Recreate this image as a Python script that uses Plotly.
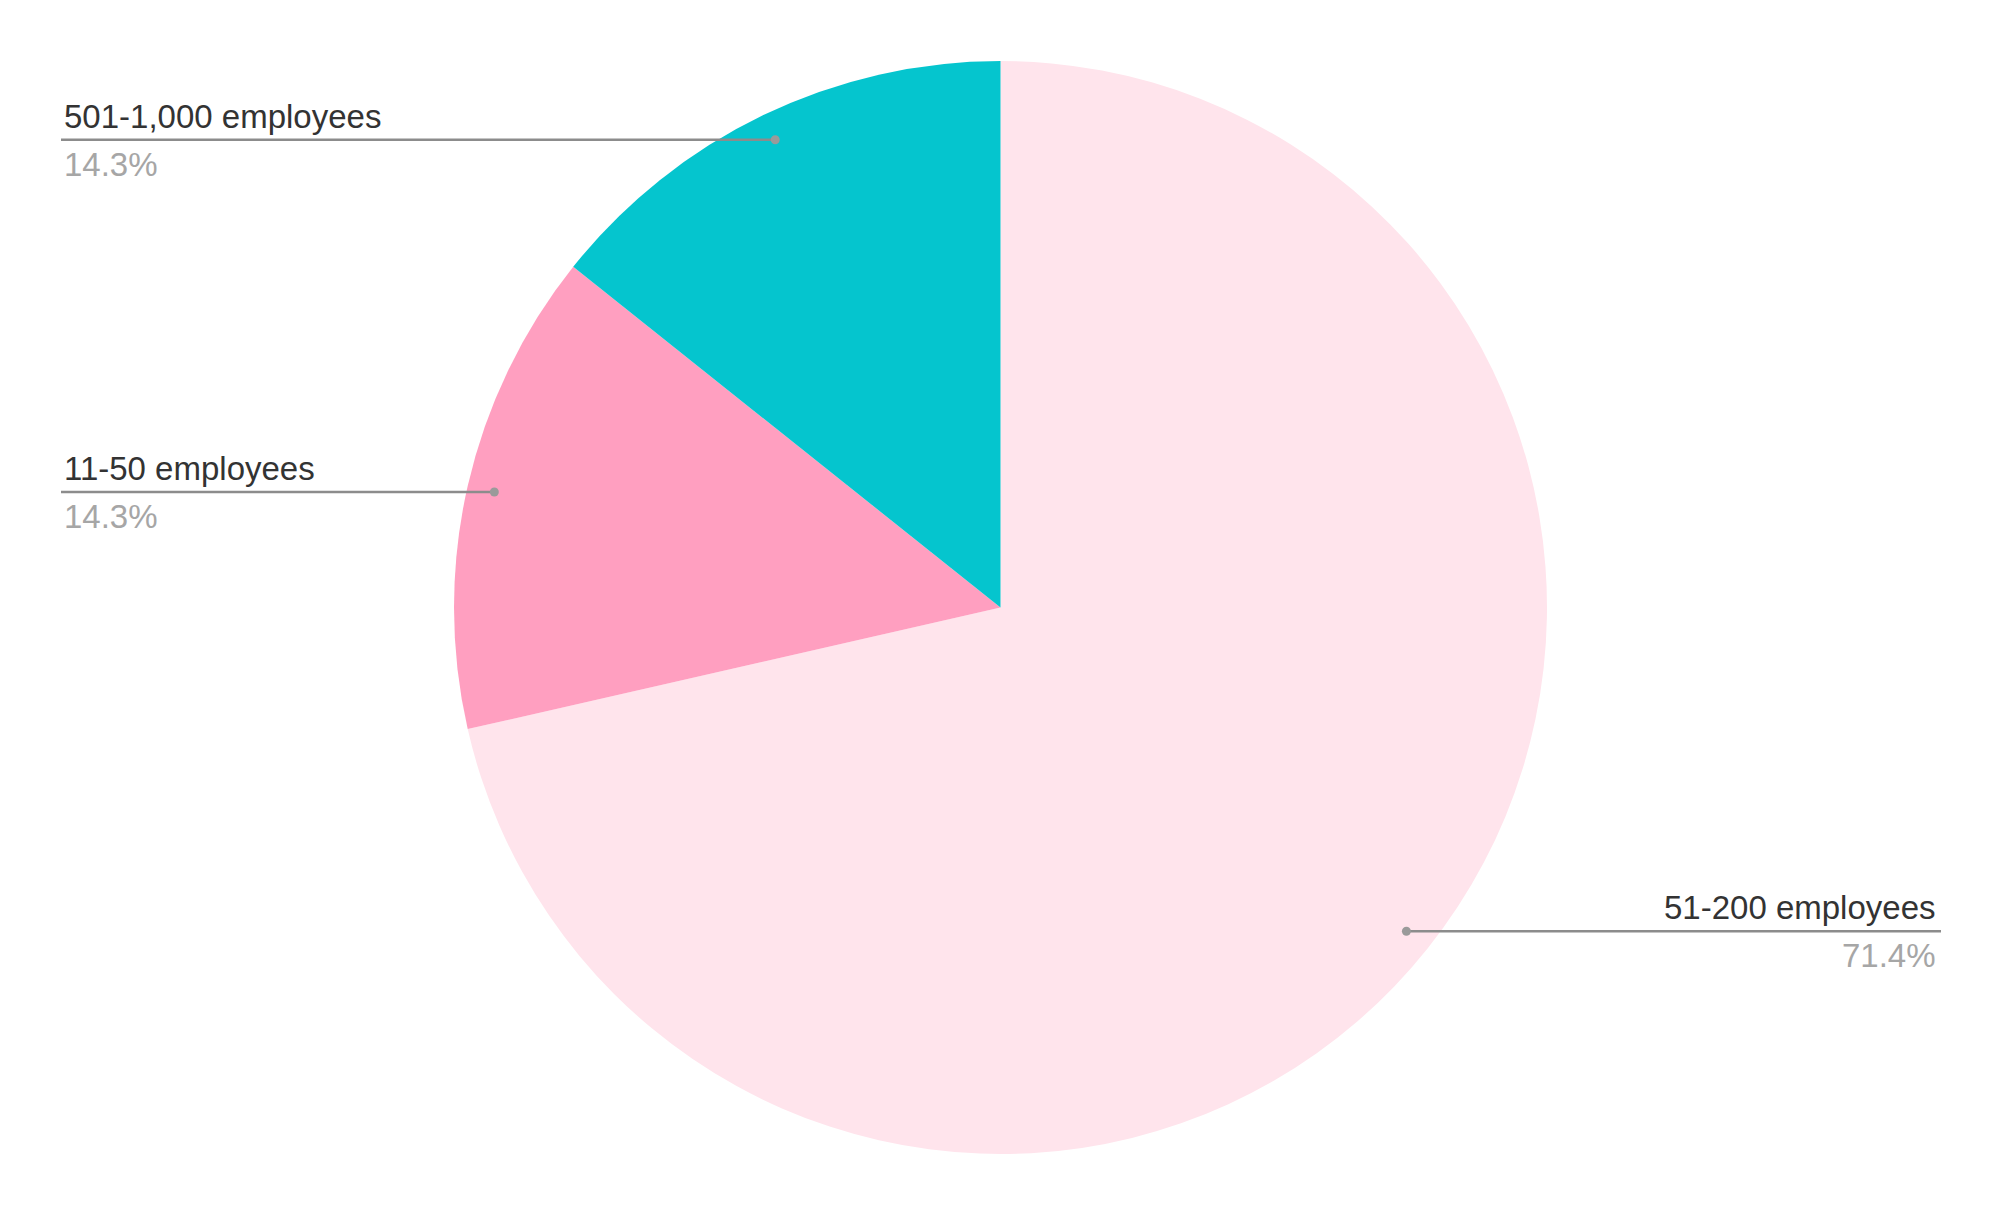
import math
import plotly.graph_objects as go

# slice data, in drawing order (clockwise from 12 o'clock)
categories = ["51-200 employees", "11-50 employees", "501-1,000 employees"]
counts = [5, 1, 1]
colors = ["#FFE4EC", "#FF9FC0", "#05C5CE"]

W, H = 2000, 1215
OFF = 8  # page body margin pushes the plot down/right
# pie box in pixels (page coords minus body margin)
CX, CY, R = 1000.5 - OFF, 607.5 - OFF, 546.5
LEFT_X, RIGHT_X = 61 - OFF, 1941 - OFF

total = sum(counts)
fig = go.Figure()

fig.add_trace(go.Pie(
    labels=categories, values=counts, sort=False, direction="clockwise", rotation=0,
    marker=dict(colors=colors, line=dict(width=0)),
    textinfo="none", hoverinfo="skip", showlegend=False,
    domain=dict(x=[(CX - R) / W, (CX + R) / W], y=[(H - CY - R) / H, (H - CY + R) / H]),
))

# leader lines + labels, placed from each slice's mid-angle
shapes, annotations = [], []
start = 0.0
for cat, n in zip(categories, counts):
    frac = n / total
    mid = start + frac * 180.0  # degrees clockwise from top
    start += frac * 360.0
    a = math.radians(mid)
    px = CX + 0.95 * R * math.sin(a)
    py = CY - 0.95 * R * math.cos(a)
    left = mid > 180
    end_x = LEFT_X if left else RIGHT_X
    shapes.append(dict(
        type="line", xref="x", yref="y", x0=px, y0=py, x1=end_x, y1=py,
        line=dict(color="#8c8c8c", width=2.5), layer="above",
    ))
    shapes.append(dict(
        type="circle", xref="x", yref="y", xsizemode="pixel", ysizemode="pixel",
        xanchor=px, yanchor=py, x0=-4.5, x1=4.5, y0=-4.5, y1=4.5,
        fillcolor="#9a9a9a", line=dict(width=0), layer="above",
    ))
    anchor = "left" if left else "right"
    xs = 1 if left else -3
    annotations.append(dict(
        x=end_x, y=py, xref="x", yref="y", text=cat, showarrow=False,
        xanchor=anchor, yanchor="bottom", yshift=3, xshift=xs,
        font=dict(size=33, color="#333333"),
    ))
    annotations.append(dict(
        x=end_x, y=py, xref="x", yref="y", text=f"{frac * 100:.1f}%", showarrow=False,
        xanchor=anchor, yanchor="top", yshift=-4, xshift=xs,
        font=dict(size=33, color="#a6a6a6"),
    ))

fig.update_layout(
    width=W, height=H,
    margin=dict(l=0, r=0, t=0, b=0),
    paper_bgcolor="white", plot_bgcolor="rgba(0,0,0,0)",
    font=dict(family="Arial, Liberation Sans, sans-serif"),
    xaxis=dict(range=[0, W], visible=False, fixedrange=True),
    yaxis=dict(range=[H, 0], visible=False, fixedrange=True),
    shapes=shapes,
    annotations=annotations,
)

fig.write_html("out.html")
